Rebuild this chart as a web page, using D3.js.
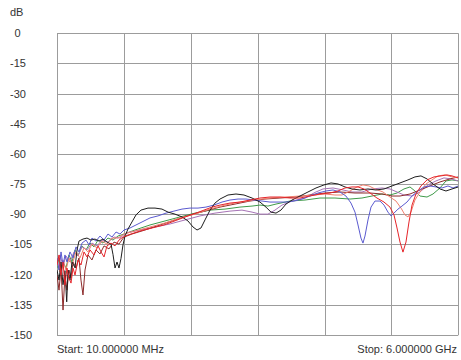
<!DOCTYPE html>
<html>
<head>
<meta charset="utf-8">
<script src="https://cdn.jsdelivr.net/npm/d3@7"></script>
<style>
  body { margin: 0; background: #fff; }
  text { font-family: "Liberation Sans", Arial, sans-serif; font-size: 11px; fill: #333; }
</style>
</head>
<body>
<svg id="chart" width="461" height="360"></svg>
<script>
// Sweep settings and axis labels
const yUnit = "dB";
const yTicks = [0, -15, -30, -45, -60, -75, -90, -105, -120, -135, -150];
const freqStartGHz = 0.01;
const freqStopGHz = 6.0;
const xDivisions = 6;
const startLabel = "Start: 10.000000 MHz";
const stopLabel = "Stop: 6.000000 GHz";

// Measured traces: [frequency GHz, level dB]
const traceBlack = [[0.010,-117.7],[0.040,-122.7],[0.070,-113.7],[0.100,-125.0],[0.129,-118.0],[0.155,-133.5],[0.174,-117.7],[0.204,-122.7],[0.234,-113.7],[0.279,-116.6],[0.309,-107.7],[0.338,-103.3],[0.398,-102.3],[0.458,-101.8],[0.517,-102.8],[0.577,-102.3],[0.637,-103.3],[0.697,-102.3],[0.756,-103.8],[0.816,-104.8],[0.846,-110.0],[0.876,-116.7],[0.906,-113.7],[0.935,-116.7],[0.965,-112.0],[0.995,-105.2],[1.025,-100.8],[1.070,-97.3],[1.129,-93.8],[1.189,-90.3],[1.264,-87.9],[1.368,-86.9],[1.473,-86.9],[1.577,-87.4],[1.667,-88.9],[1.771,-89.9],[1.876,-91.3],[1.965,-93.3],[2.040,-96.3],[2.100,-97.8],[2.159,-96.8],[2.219,-92.8],[2.294,-87.9],[2.368,-84.4],[2.443,-82.4],[2.562,-80.4],[2.682,-79.9],[2.801,-80.4],[2.921,-81.9],[3.040,-83.9],[3.129,-86.4],[3.204,-88.9],[3.279,-89.4],[3.353,-87.9],[3.428,-84.9],[3.518,-82.9],[3.637,-80.9],[3.756,-78.9],[3.876,-76.9],[3.995,-75.4],[4.100,-74.4],[4.204,-74.9],[4.309,-76.4],[4.413,-77.4],[4.532,-77.9],[4.652,-77.4],[4.771,-77.9],[4.891,-77.4],[5.010,-75.9],[5.130,-74.4],[5.249,-72.9],[5.353,-71.4],[5.443,-70.9],[5.533,-72.4],[5.622,-74.9],[5.727,-77.4],[5.816,-78.4],[5.906,-77.4],[6.0,-76.4]];

const traceBlue = [[0.010,-111.7],[0.040,-117.7],[0.070,-108.7],[0.100,-115.2],[0.129,-110.2],[0.159,-113.7],[0.204,-108.7],[0.249,-111.7],[0.294,-106.2],[0.338,-108.7],[0.383,-104.3],[0.443,-102.8],[0.488,-105.2],[0.532,-101.8],[0.592,-103.3],[0.652,-100.8],[0.712,-102.8],[0.771,-99.8],[0.831,-101.3],[0.891,-98.8],[0.950,-99.8],[1.010,-97.8],[1.100,-96.8],[1.189,-95.3],[1.279,-93.8],[1.398,-91.8],[1.517,-90.8],[1.637,-89.4],[1.756,-88.4],[1.876,-87.4],[1.995,-86.9],[2.115,-86.9],[2.234,-86.4],[2.353,-85.4],[2.473,-83.9],[2.592,-82.9],[2.712,-82.4],[2.831,-82.4],[2.950,-82.9],[3.070,-83.4],[3.189,-83.9],[3.309,-83.9],[3.428,-83.9],[3.547,-83.4],[3.667,-82.4],[3.786,-80.9],[3.906,-79.4],[4.025,-78.4],[4.130,-77.9],[4.234,-78.9],[4.323,-80.9],[4.398,-84.4],[4.458,-88.9],[4.503,-95.3],[4.547,-101.8],[4.577,-104.3],[4.607,-100.8],[4.652,-92.8],[4.697,-86.4],[4.756,-83.4],[4.831,-83.4],[4.891,-85.4],[4.950,-88.9],[4.995,-90.8],[5.040,-89.4],[5.100,-87.4],[5.159,-85.9],[5.234,-83.9],[5.309,-80.9],[5.398,-78.4],[5.488,-76.4],[5.577,-75.9],[5.667,-76.4],[5.757,-76.9],[5.846,-75.9],[5.921,-76.9],[6.0,-75.9]];

const traceRed = [[0.010,-115.2],[0.040,-110.2],[0.070,-120.2],[0.100,-113.7],[0.129,-125.2],[0.159,-116.7],[0.189,-121.7],[0.219,-124.2],[0.249,-116.7],[0.279,-120.2],[0.323,-112.7],[0.368,-115.2],[0.413,-108.7],[0.458,-111.2],[0.503,-107.7],[0.562,-110.2],[0.622,-105.7],[0.667,-108.7],[0.712,-111.2],[0.756,-105.7],[0.816,-104.3],[0.876,-105.7],[0.935,-102.8],[0.995,-101.3],[1.070,-100.3],[1.159,-99.3],[1.249,-98.3],[1.368,-97.3],[1.488,-96.3],[1.607,-95.3],[1.726,-93.8],[1.846,-92.3],[1.965,-90.8],[2.085,-89.4],[2.204,-87.9],[2.323,-86.4],[2.443,-85.4],[2.592,-84.4],[2.741,-83.9],[2.891,-82.9],[3.040,-81.9],[3.189,-81.4],[3.338,-81.4],[3.488,-81.9],[3.637,-81.9],[3.786,-80.9],[3.935,-79.9],[4.085,-79.4],[4.204,-78.4],[4.309,-76.9],[4.413,-76.4],[4.503,-76.4],[4.592,-77.4],[4.682,-79.4],[4.786,-81.9],[4.891,-83.9],[4.980,-86.4],[5.040,-90.3],[5.085,-96.8],[5.130,-103.8],[5.174,-108.8],[5.219,-103.8],[5.264,-93.8],[5.309,-85.4],[5.368,-79.9],[5.443,-75.9],[5.533,-72.9],[5.637,-71.4],[5.742,-70.9],[5.831,-70.4],[5.906,-70.9],[6.0,-71.9]];

const traceSalmon = [[0.010,-113.7],[0.055,-118.7],[0.100,-112.7],[0.144,-117.7],[0.189,-111.7],[0.234,-115.2],[0.294,-108.7],[0.353,-111.7],[0.413,-106.7],[0.473,-108.7],[0.532,-104.8],[0.607,-106.7],[0.682,-103.3],[0.756,-104.8],[0.831,-101.8],[0.920,-101.8],[1.010,-99.8],[1.174,-98.3],[1.398,-96.3],[1.622,-94.3],[1.846,-91.8],[2.070,-89.9],[2.294,-87.4],[2.518,-85.4],[2.741,-83.9],[2.965,-82.9],[3.189,-81.9],[3.413,-81.4],[3.637,-80.9],[3.861,-80.4],[4.010,-79.9],[4.159,-80.4],[4.264,-80.4],[4.383,-78.4],[4.488,-76.4],[4.577,-75.4],[4.667,-75.9],[4.756,-77.4],[4.876,-78.9],[4.980,-81.4],[5.070,-83.4],[5.145,-86.9],[5.204,-90.3],[5.249,-91.3],[5.294,-88.9],[5.353,-82.9],[5.428,-78.9],[5.518,-74.9],[5.607,-72.9],[5.697,-70.9],[5.801,-70.4],[5.906,-71.4],[6.0,-71.9]];

const traceMaroon = [[0.010,-120.2],[0.040,-127.7],[0.070,-116.7],[0.100,-137.6],[0.129,-120.2],[0.159,-127.7],[0.189,-117.7],[0.219,-121.7],[0.249,-113.7],[0.294,-116.7],[0.338,-111.7],[0.368,-122.7],[0.398,-130.1],[0.428,-117.7],[0.473,-110.2],[0.532,-112.7],[0.592,-107.7],[0.652,-109.7],[0.712,-105.7],[0.786,-107.2],[0.861,-103.8],[0.935,-104.8],[1.010,-101.3],[1.129,-99.8],[1.323,-97.8],[1.547,-95.3],[1.771,-92.8],[1.995,-90.3],[2.219,-88.4],[2.443,-86.4],[2.667,-84.9],[2.891,-83.4],[3.114,-82.4],[3.338,-81.9],[3.562,-81.4],[3.786,-80.4],[4.010,-79.4],[4.234,-78.9],[4.458,-79.4],[4.682,-79.4],[4.861,-79.9],[5.010,-80.9],[5.130,-80.9],[5.279,-79.9],[5.428,-77.9],[5.577,-75.9],[5.727,-73.9],[5.876,-72.4],[6.0,-71.4]];

const traceGreen = [[0.010,-116.7],[0.040,-111.7],[0.070,-118.7],[0.100,-113.7],[0.144,-116.7],[0.189,-110.2],[0.234,-113.7],[0.279,-107.7],[0.323,-110.7],[0.383,-105.7],[0.443,-107.7],[0.503,-104.3],[0.562,-106.2],[0.622,-102.8],[0.697,-104.3],[0.771,-101.8],[0.846,-102.8],[0.920,-100.8],[1.010,-99.8],[1.174,-97.8],[1.398,-95.3],[1.622,-93.3],[1.846,-91.3],[2.070,-89.4],[2.294,-87.9],[2.518,-87.4],[2.741,-86.4],[2.921,-85.9],[3.040,-85.4],[3.159,-85.9],[3.279,-84.9],[3.488,-83.4],[3.712,-82.9],[3.935,-81.9],[4.159,-81.9],[4.383,-82.4],[4.562,-81.9],[4.712,-80.9],[4.861,-79.9],[4.980,-80.4],[5.085,-79.4],[5.189,-77.4],[5.279,-76.4],[5.353,-78.4],[5.428,-80.9],[5.533,-81.4],[5.622,-79.9],[5.727,-76.9],[5.816,-73.4],[5.906,-72.9],[6.0,-73.4]];

const tracePurple = [[0.010,-113.7],[0.055,-110.2],[0.100,-115.7],[0.144,-110.7],[0.204,-113.7],[0.264,-108.7],[0.323,-110.7],[0.383,-106.2],[0.458,-107.7],[0.532,-104.3],[0.607,-105.7],[0.682,-102.8],[0.771,-103.8],[0.861,-101.3],[0.950,-101.8],[1.040,-99.3],[1.249,-97.8],[1.473,-96.3],[1.697,-94.8],[1.921,-92.8],[2.144,-90.8],[2.368,-89.4],[2.592,-88.4],[2.771,-87.9],[2.921,-88.9],[3.040,-89.9],[3.159,-89.9],[3.264,-87.9],[3.368,-85.4],[3.518,-83.4],[3.712,-81.9],[3.861,-79.1],[3.980,-77.4],[4.130,-76.9],[4.279,-77.9],[4.413,-78.9],[4.562,-78.9],[4.712,-77.4],[4.861,-76.9],[4.980,-77.4],[5.085,-78.9],[5.189,-80.4],[5.309,-80.9],[5.428,-78.9],[5.547,-75.4],[5.667,-73.4],[5.786,-71.9],[5.891,-72.4],[6.0,-73.4]];

const traces = [
  { data: traceGreen,  color: "#3f9a4a" },
  { data: tracePurple, color: "#a673b5" },
  { data: traceMaroon, color: "#8c2a2a" },
  { data: traceSalmon, color: "#f0806f" },
  { data: traceBlue,   color: "#5a5acf" },
  { data: traceBlack,  color: "#1e1e1e" },
  { data: traceRed,    color: "#e5252a" }
];

// Layout
const plot = { left: 57, top: 33.3, right: 458.3, bottom: 335 };
const svg = d3.select("#chart");

const x = d3.scaleLinear().domain([freqStartGHz, freqStopGHz]).range([plot.left, plot.right]);
const y = d3.scaleLinear().domain([0, -150]).range([plot.top, plot.bottom]);

const gridColor = "#9c9c9c";

// Horizontal grid
svg.append("g").selectAll("line").data(yTicks).join("line")
  .attr("x1", plot.left).attr("x2", plot.right)
  .attr("y1", d => Math.round(y(d)) + 0.5).attr("y2", d => Math.round(y(d)) + 0.5)
  .attr("stroke", gridColor).attr("stroke-width", 1);

// Vertical grid: equal frequency divisions across the sweep
const xGrid = d3.range(xDivisions + 1).map(i => freqStartGHz + i * (freqStopGHz - freqStartGHz) / xDivisions);
svg.append("g").selectAll("line").data(xGrid).join("line")
  .attr("x1", d => Math.round(x(d)) + 0.5).attr("x2", d => Math.round(x(d)) + 0.5)
  .attr("y1", plot.top).attr("y2", plot.bottom)
  .attr("stroke", gridColor).attr("stroke-width", 1);

// Traces
svg.append("clipPath").attr("id", "plotClip").append("rect")
  .attr("x", plot.left).attr("y", plot.top)
  .attr("width", plot.right - plot.left).attr("height", plot.bottom - plot.top);

const line = d3.line().x(d => x(d[0])).y(d => y(d[1]));
svg.append("g").attr("clip-path", "url(#plotClip)")
  .selectAll("path").data(traces).join("path")
  .attr("d", d => line(d.data))
  .attr("fill", "none")
  .attr("stroke", d => d.color)
  .attr("stroke-width", 1)
  .attr("stroke-linejoin", "round");

// Y labels
svg.append("text").attr("x", 10).attr("y", 16).text(yUnit);
svg.append("g").selectAll("text").data(yTicks).join("text")
  .attr("x", d => d < 0 ? 10 : 14.5)
  .attr("y", d => y(d) + 4)
  .text(d => d3.format("d")(d).replace("−", "-"));

// Sweep range labels
svg.append("text").attr("x", plot.left).attr("y", 353).text(startLabel);
svg.append("text").attr("x", 457).attr("y", 353).attr("text-anchor", "end").text(stopLabel);
</script>
</body>
</html>
